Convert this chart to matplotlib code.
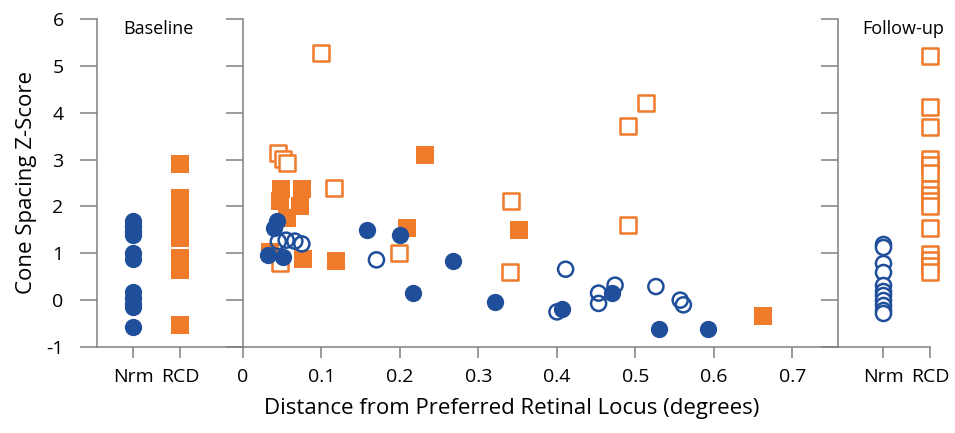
import matplotlib.pyplot as plt

plt.rcParams['font.family'] = ['Open Sans', 'DejaVu Sans']
plt.rcParams['axes.unicode_minus'] = False

BLUE = '#1F4E9B'
ORANGE = '#F07B2A'
GREY = '#808080'

# baseline category columns
base_nrm = [1.68, 1.58, 1.48, 1.4, 1.0, 0.88, 0.18, 0.05, -0.08, -0.15, -0.58]
base_rcd = [2.9, 2.18, 2.05, 1.9, 1.75, 1.6, 1.45, 1.32, 0.9, 0.78, 0.65, -0.52]

# follow-up category columns
fu_nrm = [1.2, 1.13, 0.8, 0.6, 0.32, 0.2, 0.1, 0.0, -0.1, -0.2, -0.28]
fu_rcd = [5.2, 4.12, 3.7, 3.02, 2.88, 2.72, 2.38, 2.25, 2.12, 2.0, 1.55,
          0.98, 0.85, 0.72, 0.6]

# distance vs z-score
nrm_base_x = [0.043, 0.039, 0.032, 0.051, 0.158, 0.2, 0.216, 0.267, 0.321,
              0.406, 0.47, 0.53, 0.592]
nrm_base_y = [1.68, 1.53, 0.96, 0.93, 1.5, 1.4, 0.16, 0.83, -0.03,
              -0.18, 0.15, -0.62, -0.62]
nrm_fu_x = [0.045, 0.055, 0.066, 0.075, 0.17, 0.411, 0.4, 0.453, 0.453,
            0.474, 0.526, 0.557, 0.561]
nrm_fu_y = [1.25, 1.28, 1.26, 1.2, 0.86, 0.66, -0.25, 0.15, -0.07,
            0.32, 0.29, 0.0, -0.1]
rcd_base_x = [0.049, 0.075, 0.047, 0.073, 0.056, 0.034, 0.077, 0.119,
              0.209, 0.232, 0.351, 0.663]
rcd_base_y = [2.37, 2.37, 2.12, 2.0, 1.75, 1.02, 0.88, 0.83,
              1.55, 3.1, 1.5, -0.34]
rcd_fu_x = [0.099, 0.045, 0.051, 0.056, 0.116, 0.047, 0.199, 0.342, 0.34,
            0.513, 0.49, 0.49]
rcd_fu_y = [5.27, 3.13, 3.02, 2.92, 2.39, 0.8, 1.0, 2.12, 0.6,
            4.2, 3.72, 1.6]

cat_labels = ['Nrm', 'RCD']
x_ticks = [0, 0.1, 0.2, 0.3, 0.4, 0.5, 0.6, 0.7]
x_tick_labels = ['0', '0.1', '0.2', '0.3', '0.4', '0.5', '0.6', '0.7']
y_ticks = [-1, 0, 1, 2, 3, 4, 5, 6]

W, H = 955, 433
fig = plt.figure(figsize=(W / 100, H / 100), dpi=100)
fig.patch.set_facecolor('white')


def px_axes(x0, x1, y0=19, y1=347):
    return fig.add_axes([x0 / W, (H - y1) / H, (x1 - x0) / W, (y1 - y0) / H])


ax_l = px_axes(97, 243)
ax_m = px_axes(243, 838)
ax_r = px_axes(838, 930)

S_FILL = 155
S_OPEN = 118
LW = 1.8

for ax in (ax_l, ax_m, ax_r):
    ax.set_ylim(-1, 6)
    ax.set_yticks(y_ticks)
    for side in ('top', 'right'):
        ax.spines[side].set_visible(False)
    for side in ('left', 'bottom'):
        ax.spines[side].set_color(GREY)
        ax.spines[side].set_linewidth(1.1)
    ax.tick_params(axis='y', direction='out', length=12, width=1.1,
                   color=GREY, labelsize=14, pad=12)
    ax.tick_params(axis='x', direction='out', length=8, width=1.1,
                   color=GREY, labelsize=14, pad=7)
    ax.set_facecolor('none')

# left panel: baseline
ax_l.scatter([0] * len(base_nrm), base_nrm, s=S_FILL, color=BLUE,
             marker='o', linewidths=0, clip_on=False)
ax_l.scatter([1] * len(base_rcd), base_rcd, s=S_FILL, color=ORANGE,
             marker='s', linewidths=0, clip_on=False)
ax_l.set_xlim(-0.766, 2.34)
ax_l.set_xticks([0, 1])
ax_l.set_xticklabels(cat_labels)
ax_l.set_ylabel('Cone Spacing Z-Score', fontsize=16, labelpad=7)
ax_l.text(0.418, 0.97, 'Baseline', transform=ax_l.transAxes, ha='center',
          va='center', fontsize=13)

# middle panel: distance
ax_m.scatter(rcd_base_x, rcd_base_y, s=S_FILL, color=ORANGE, marker='s',
             linewidths=0, clip_on=False, zorder=2)
ax_m.scatter(rcd_fu_x, rcd_fu_y, s=S_OPEN, facecolors='white',
             edgecolors=ORANGE, marker='s', linewidths=LW, clip_on=False,
             zorder=3)
ax_m.scatter(nrm_base_x, nrm_base_y, s=S_FILL, color=BLUE, marker='o',
             linewidths=0, clip_on=False, zorder=4)
ax_m.scatter(nrm_fu_x, nrm_fu_y, s=S_OPEN, facecolors='none',
             edgecolors=BLUE, marker='o', linewidths=LW, clip_on=False,
             zorder=5)
ax_m.set_xlim(0, 0.758)
ax_m.set_xticks(x_ticks)
ax_m.set_xticklabels(x_tick_labels)
ax_m.set_yticklabels([])
ax_m.set_xlabel('Distance from Preferred Retinal Locus (degrees)',
                fontsize=16)
ax_m.xaxis.set_label_coords((512 - 243) / 595, -0.155)

# right panel: follow-up
ax_r.scatter([0] * len(fu_nrm), fu_nrm, s=S_OPEN, facecolors='white',
             edgecolors=BLUE, marker='o', linewidths=LW, clip_on=False)
ax_r.scatter([1] * len(fu_rcd), fu_rcd, s=S_OPEN, facecolors='white',
             edgecolors=ORANGE, marker='s', linewidths=LW, clip_on=False)
ax_r.set_xlim(-0.978, 1.0)
ax_r.set_xticks([0, 1])
ax_r.set_xticklabels(cat_labels)
ax_r.set_yticklabels([])
ax_r.text(0.707, 0.97, 'Follow-up', transform=ax_r.transAxes, ha='center',
          va='center', fontsize=13)

fig.savefig('out.png', dpi=100)
